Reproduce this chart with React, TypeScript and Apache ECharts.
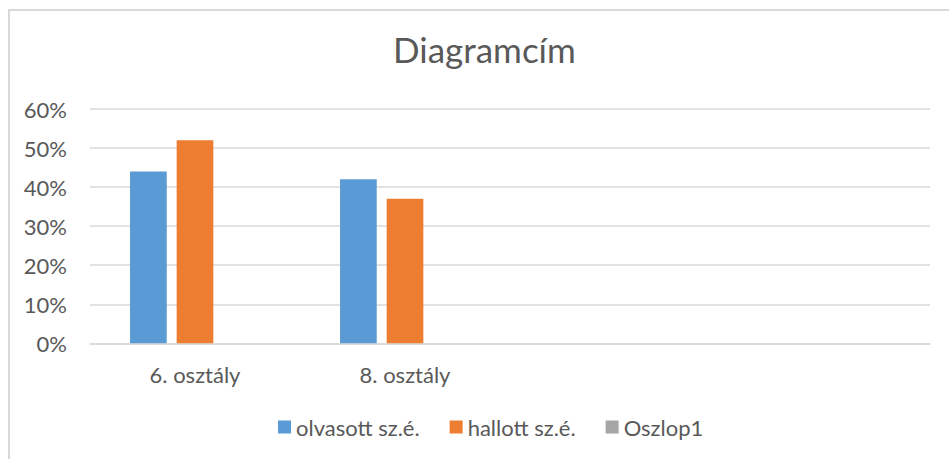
import React, { useEffect, useRef } from "react";
import * as echarts from "echarts";

const categories = ["6. osztály", "8. osztály", "", ""];
const seriesNames = ["olvasott sz.é.", "hallott sz.é.", "Oszlop1"];
const olvasott = [0.44, 0.42, null, null];
const hallott = [0.52, 0.37, null, null];
const oszlop1: (number | null)[] = [null, null, null, null];
const colors = ["#5B9BD5", "#ED7D31", "#A5A5A5"];
const titleText = "Diagramcím";

const FONT = "Lato, 'Noto Sans', sans-serif";
const TEXT = "#595959";

export default function App() {
  const ref = useRef<HTMLDivElement>(null);
  useEffect(() => {
    if (!ref.current) return;
    const chart = echarts.init(ref.current, null, { renderer: "svg" });
    const values = [olvasott, hallott, oszlop1];
    chart.setOption({
      animation: false,
      backgroundColor: "#ffffff",
      textStyle: { fontFamily: FONT },
      title: {
        text: titleText,
        left: 393,
        top: 31,
        padding: 0,
        textStyle: { fontFamily: FONT, fontSize: 35, fontWeight: "normal", color: TEXT },
      },
      graphic: [
        {
          type: "rect",
          shape: { x: 9, y: 10, width: 1200, height: 1200 },
          style: { fill: "none", stroke: "#d9d9d9", lineWidth: 2 },
          silent: true,
        },
      ],
      legend: {
        data: seriesNames,
        left: 273,
        top: 411,
        icon: "rect",
        itemWidth: 13,
        itemHeight: 13,
        itemGap: 30,
        textStyle: { fontFamily: FONT, fontSize: 22, color: TEXT },
      },
      grid: { left: 90, width: 840, top: 109, height: 234.3 },
      xAxis: {
        type: "category",
        data: categories,
        axisLine: { show: true, lineStyle: { color: "#d9d9d9", width: 1.5 } },
        axisTick: { show: false },
        axisLabel: { fontFamily: FONT, fontSize: 22, color: TEXT, margin: 20, interval: 0 },
      },
      yAxis: {
        type: "value",
        min: 0,
        max: 0.6,
        interval: 0.1,
        axisLine: { show: false },
        axisTick: { show: false },
        splitLine: { lineStyle: { color: "#d9d9d9", width: 1.5 } },
        axisLabel: {
          fontFamily: FONT,
          fontSize: 22,
          color: TEXT,
          margin: 23,
          formatter: (v: number) => `${Math.round(v * 100)}%`,
        },
      },
      series: seriesNames.map((name, i) => ({
        name,
        type: "bar",
        data: values[i],
        barWidth: 36.7,
        barGap: "27%",
        itemStyle: { color: colors[i] },
      })),
    });
    return () => chart.dispose();
  }, []);
  return (
    <div
      ref={ref}
      style={{ position: "fixed", left: 0, top: 0, width: 949, height: 459, background: "#fff" }}
    />
  );
}
